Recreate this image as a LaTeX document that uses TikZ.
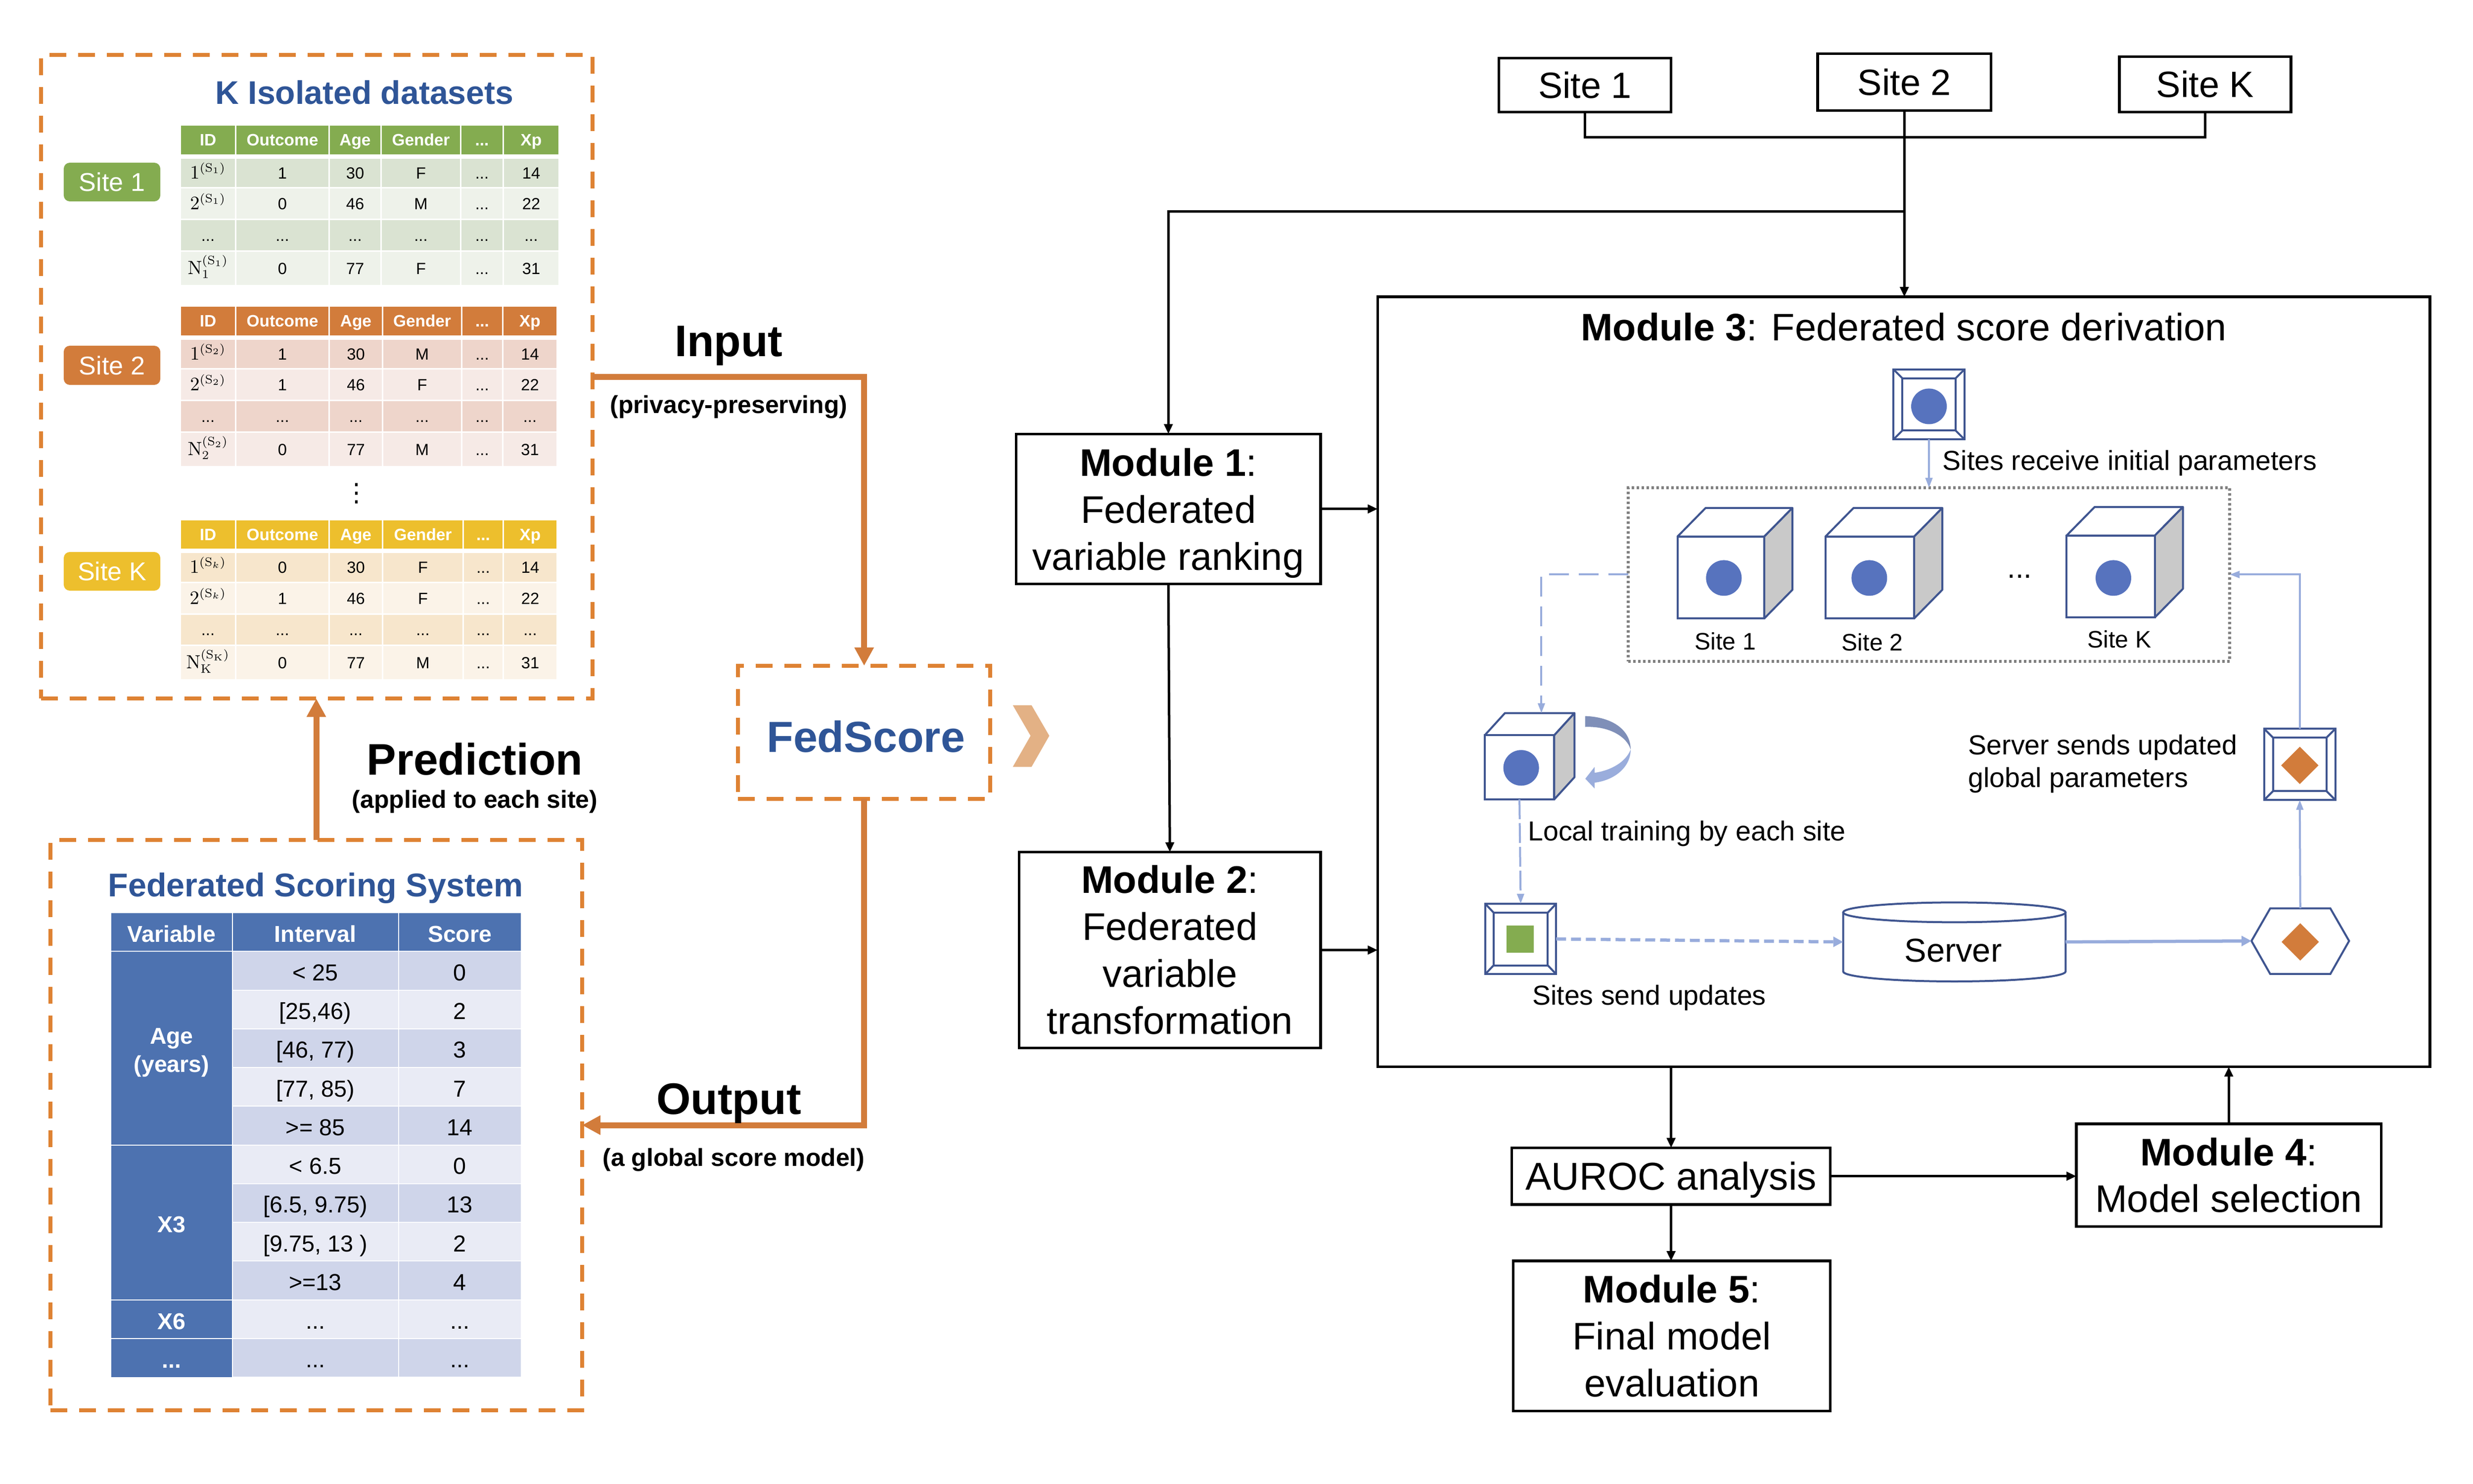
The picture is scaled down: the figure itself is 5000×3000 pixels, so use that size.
\documentclass[tikz,border=0pt]{standalone}
\usepackage[no-math]{fontspec}
\setmainfont{Liberation Sans}
\newfontfamily\djv{DejaVu Sans}
\usetikzlibrary{arrows.meta,shapes.geometric,calc}
\definecolor{titleblue}{HTML}{2F5597}
\definecolor{dashor}{HTML}{DE8233}
\definecolor{solidor}{HTML}{D27C3B}
\definecolor{chev}{HTML}{E3B185}
\definecolor{gA}{HTML}{84AC50}\definecolor{gB}{HTML}{DAE3D2}\definecolor{gC}{HTML}{EEF2EA}
\definecolor{oA}{HTML}{D27C3B}\definecolor{oB}{HTML}{EED5CB}\definecolor{oC}{HTML}{F6EAE6}
\definecolor{yA}{HTML}{EDBF2D}\definecolor{yB}{HTML}{F7E6CC}\definecolor{yC}{HTML}{FBF3E8}
\definecolor{tblue}{HTML}{4D72B0}\definecolor{tdk}{HTML}{CFD5EA}\definecolor{tlt}{HTML}{E9EBF5}
\definecolor{iconc}{HTML}{3F5590}\definecolor{dotblue}{HTML}{5773BE}\definecolor{flow}{HTML}{98ACDC}
\definecolor{sidegray}{HTML}{C9C9C9}\definecolor{dotgray}{HTML}{808080}
\definecolor{curvtop}{HTML}{7F8FB8}\definecolor{curvbot}{HTML}{9AADDC}
\def\dd{...}
\def\ux{0.009966cm}
\newcommand{\fsz}[1]{\fontsize{#1}{#1}\selectfont}
\tikzset{
 boxdash/.style={draw=dashor,line width=.08cm,dash pattern=on .34cm off .24cm,inner sep=0,outer sep=0},
 orline/.style={draw=solidor,line width=.12cm},
 ortip/.style={-{Triangle[length=.37cm,width=.37cm]}},
 lhead/.style={font=\bfseries\fsz{9.5},text=white,text height=6.8pt,text depth=0pt},
 lbody/.style={font=\fsz{9.3},text=black,text height=6.66pt,text depth=0pt},
 badge/.style={rounded corners=.12cm,inner sep=0,text=white,font=\fsz{14.8},text height=10.6pt,text depth=0pt},
 scorecell/.style={draw=white,line width=.02cm,inner sep=0,text height=11.3pt,text depth=0pt,font=\fsz{13.3}},
 blackbox/.style={draw=black,line width=.055cm,inner sep=0,outer sep=0,align=center,font=\fontsize{22.1}{27}\selectfont},
 blk/.style={draw=black,line width=.05cm,-{Triangle[length=.2cm,width=.17cm]}},
 iconline/.style={draw=iconc,line width=.04cm,inner sep=0,outer sep=0},
 flowline/.style={draw=flow,line width=.04cm,-{Triangle[length=.2cm,width=.14cm]}},
 flowdash/.style={flowline,dash pattern=on .4cm off .2cm},
 flowthick/.style={draw=flow,line width=.065cm,-{Triangle[length=.2cm,width=.2cm]}},
 ctext/.style={font=\fsz{15.8},anchor=base west,inner sep=0},
 dotn/.style={circle,fill=dotblue,inner sep=0,minimum size=.72cm},
 dia/.style={diamond,fill=solidor,inner sep=0,minimum width=.76cm,minimum height=.76cm,shape aspect=1},
}
% prefix, y1, y2, fill, style, cells
\newcommand{\lrow}[6]{%
 \foreach \c [count=\i] in {#6} {
  \pgfmathsetmacro\xa{\cols[\i-1]}
  \pgfmathsetmacro\xb{\cols[\i]}
  \node[fill=#4,#5,inner sep=0,minimum width={(\xb-\xa-3)*0.01cm},minimum height={(#3-#2)*0.01cm}] (#1-\i) at ({(\xa+\xb+3)/2},{(#2+#3)/2}) {\c};
 }}
\newcommand{\idc}[1]{{\fsz{10.5}$#1$}}
\newcommand{\bevel}[7]{%
 \node[iconline,fill=white,minimum width={#4*\ux},minimum height={#5*\ux}] (#1) at (#2,#3) {};
 \coordinate (#1-a) at ({#2-#4/2+#6},{#3-#5/2+#7});
 \coordinate (#1-b) at ({#2+#4/2-#6},{#3-#5/2+#7});
 \coordinate (#1-c) at ({#2+#4/2-#6},{#3+#5/2-#7});
 \coordinate (#1-d) at ({#2-#4/2+#6},{#3+#5/2-#7});
 \draw[iconline] (#1-a)--(#1-b)--(#1-c)--(#1-d)--cycle;
 \draw[iconline] (#1.north west)--(#1-a) (#1.north east)--(#1-b) (#1.south east)--(#1-c) (#1.south west)--(#1-d);
}
\newcommand{\cube}[7]{%
 \draw[iconline,fill=white,line join=round] (#2,#3)--({#2+#6},{#3-#7})--({#4+#6},{#3-#7})--(#4,#3)--cycle;
 \draw[iconline,fill=sidegray,line join=round] (#4,#3)--({#4+#6},{#3-#7})--({#4+#6},{#5-#7})--(#4,#5)--cycle;
 \node[iconline,fill=white,minimum width={(#4-#2)*\ux},minimum height={(#5-#3)*\ux}] (#1) at ({(#2+#4)/2},{(#3+#5)/2}) {};
}
\begin{document}
\begin{tikzpicture}[x=0.01cm,y=-0.01cm]
\useasboundingbox (0,0) rectangle (5000,3000);
\fill[white] (0,0) rectangle (5000,3000);

% ---------- dataset container
\node[boxdash,minimum width=11.15cm,minimum height=13.01cm] (box1) at (640.5,761.5) {};
\node[font=\bfseries\fsz{18.8},text=titleblue,anchor=base,inner sep=0] (t1) at (737,211) {K Isolated datasets};

% ---------- badges
\node[badge,fill=gA,minimum width=1.95cm,minimum height=.78cm] (b1) at (226.5,368) {Site 1};
\node[badge,fill=oA,minimum width=1.95cm,minimum height=.79cm] (b2) at (226.5,738.5) {Site 2};
\node[badge,fill=yA,minimum width=1.95cm,minimum height=.78cm] (b3) at (226.5,1155) {Site K};

% ---------- site tables
\def\cols{{363,475,664,769,930,1016,1129}}
\lrow{aH}{254}{312}{gA}{lhead}{ID,Outcome,Age,Gender,\dd,Xp}
\lrow{aA}{321}{378}{gB}{lbody}{\idc{1^{(\mathrm{S}_1)}},1,30,F,\dd,14}
\lrow{aB}{381}{442}{gC}{lbody}{\idc{2^{(\mathrm{S}_1)}},0,46,M,\dd,22}
\lrow{aC}{445}{506}{gB}{lbody}{\dd,\dd,\dd,\dd,\dd,\dd}
\lrow{aD}{509}{576}{gC}{lbody}{\idc{\mathrm{N}_1^{(\mathrm{S}_1)}},0,77,F,\dd,31}
\def\cols{{363,475,664,772,932,1015,1125}}
\lrow{bH}{620}{678}{oA}{lhead}{ID,Outcome,Age,Gender,\dd,Xp}
\lrow{bA}{687}{744}{oB}{lbody}{\idc{1^{(\mathrm{S}_2)}},1,30,M,\dd,14}
\lrow{bB}{747}{808}{oC}{lbody}{\idc{2^{(\mathrm{S}_2)}},1,46,F,\dd,22}
\lrow{bC}{811}{872}{oB}{lbody}{\dd,\dd,\dd,\dd,\dd,\dd}
\lrow{bD}{875}{942}{oC}{lbody}{\idc{\mathrm{N}_2^{(\mathrm{S}_2)}},0,77,M,\dd,31}
\node[font=\djv\fsz{14.5},anchor=center,inner sep=0] (vd) at (721,998) {⋮};
\def\cols{{363,475,664,772,935,1016,1125}}
\lrow{cH}{1052}{1109}{yA}{lhead}{ID,Outcome,Age,Gender,\dd,Xp}
\lrow{cA}{1118}{1176}{yB}{lbody}{\idc{1^{(\mathrm{S}_k)}},0,30,F,\dd,14}
\lrow{cB}{1179}{1240}{yC}{lbody}{\idc{2^{(\mathrm{S}_k)}},1,46,F,\dd,22}
\lrow{cC}{1243}{1303}{yB}{lbody}{\dd,\dd,\dd,\dd,\dd,\dd}
\lrow{cD}{1306}{1373}{yC}{lbody}{\idc{\mathrm{N}_\mathrm{K}^{(\mathrm{S}_\mathrm{K})}},0,77,M,\dd,31}

\begin{scope}[x=\ux,y=-\ux]
\node[boxdash,minimum width={1078*\ux},minimum height={1156*\ux}] (box3) at (641.5,2281.5) {};
\node[boxdash,minimum width={511*\ux},minimum height={270*\ux}] (fed) at (1752.5,1485) {};
\node[font=\bfseries\fsz{18.9},text=titleblue,anchor=base,inner sep=0] (t3) at (640,1818) {Federated Scoring System};
\node[font=\bfseries\fsz{25},text=titleblue,anchor=base,inner sep=0] (tf) at (1756,1525) {FedScore};
\fill[chev] (2054,1430)--(2092,1430)--(2128,1492)--(2092,1555)--(2054,1555)--(2090,1492)--cycle;

% ---------- score table
\tikzset{
 colA/.style={scorecell,minimum width={246*\ux},fill=tblue,text=white,font=\bfseries\fsz{13.2}},
 colB/.style={scorecell,minimum width={337*\ux}},
 colC/.style={scorecell,minimum width={249*\ux}},
}
\foreach \n/\t/\xx/\st in {v/Variable/348/colA,i/Interval/639.5/colB,s/Score/932.5/colC}
 \node[\st,fill=tblue,text=white,font=\bfseries\fsz{13.2},minimum height={78.5*\ux}] (h\n) at (\xx,1890) {\t};
\foreach \r/\tA/\tB/\f in {1/{< 25}/0/tdk,2/{[25,46)}/2/tlt,3/{[46, 77)}/3/tdk,4/{[77, 85)}/7/tlt,5/{>= 85}/14/tdk,
  6/{< 6.5}/0/tlt,7/{[6.5, 9.75)}/13/tdk,8/{[9.75, 13 )}/2/tlt,9/{>=13}/4/tdk,10/\dd/\dd/tlt,11/\dd/\dd/tdk} {
 \pgfmathsetmacro\yy{1890+\r*78.5}
 \node[colB,fill=\f,minimum height={78.5*\ux}] (ri\r) at (639.5,\yy) {\tA};
 \node[colC,fill=\f,minimum height={78.5*\ux}] (rs\r) at (932.5,\yy) {\tB};
}
\node[draw=white,line width=.02cm,inner sep=0,fill=tblue,text=white,font=\bfseries\fontsize{13.2}{16.3}\selectfont,minimum width={246*\ux},minimum height={392.5*\ux},align=center] (vage) at (348,2125.5) {\rule{0pt}{14pt}Age\\(years)};
\node[colA,minimum height={314*\ux}] (vx3) at (348,2479) {X3};
\node[colA,minimum height={78.5*\ux}] (vx6) at (348,2675.5) {X6};
\node[colA,minimum height={78.5*\ux}] (vdd) at (348,2754) {\dd};

% ---------- orange connectors and captions
\draw[orline,ortip] (box1.east) -| (fed.north);
\draw[orline,ortip] (fed.south) |- (box3.east);
\draw[orline,ortip] (box3.north) -- (box3.north |- box1.south);
\node[font=\bfseries\fsz{25.4},anchor=base,inner sep=0] (lin) at (1478,723) {Input};
\node[font=\bfseries\fsz{14.2},anchor=base,inner sep=0] (lin2) at (1478,838) {(privacy-preserving)};
\node[font=\bfseries\fsz{25.4},anchor=base,inner sep=0] (lpr) at (963,1571) {Prediction};
\node[font=\bfseries\fsz{14.2},anchor=base,inner sep=0] (lpr2) at (963,1638) {(applied to each site)};
\node[font=\bfseries\fsz{25.4},anchor=base,inner sep=0] (lou) at (1478,2259) {Output};
\node[font=\bfseries\fsz{14.2},anchor=base,inner sep=0] (lou2) at (1488,2365) {(a global score model)};

% ---------- right column boxes
\node[blackbox,font=\fsz{21},minimum width={349*\ux},minimum height={109*\ux}] (s1) at (3214.5,172.5) {Site 1};
\node[blackbox,font=\fsz{21},minimum width={352*\ux},minimum height={115*\ux}] (s2) at (3862,166.5) {Site 2};
\node[blackbox,font=\fsz{21},minimum width={348*\ux},minimum height={112*\ux}] (sK) at (4472,171) {Site K};
\node[blackbox,minimum width={617*\ux},minimum height={304*\ux}] (m1) at (2369.5,1032) {\rule{0pt}{21pt}\textbf{Module 1}:\\Federated\\variable ranking};
\node[blackbox,minimum width={611*\ux},minimum height={397*\ux}] (m2) at (2372.5,1926.5) {\textbf{Module 2}:\\Federated\\variable\\transformation};
\node[blackbox,minimum width={2134*\ux},minimum height={1561*\ux}] (m3) at (3861,1382.5) {};
\node[font=\fsz{22},anchor=base,inner sep=0] (m3t) at (3861,691) {\textbf{Module 3}: Federated score derivation};
\node[blackbox,font=\fsz{22.3},text height=16pt,text depth=0pt,minimum width={646*\ux},minimum height={115*\ux}] (aur) at (3389,2385) {AUROC analysis};
\node[blackbox,minimum width={618*\ux},minimum height={208*\ux}] (m4) at (4520,2383) {\textbf{Module 4}:\\Model selection};
\node[blackbox,minimum width={643*\ux},minimum height={304*\ux}] (m5) at (3390.5,2709) {\textbf{Module 5}:\\Final model\\evaluation};

\coordinate (bus) at (3862,278);
\coordinate (junc) at (3862,429);
\draw[draw=black,line width=.05cm] (s1.south) |- (bus) -| (sK.south);
\draw[blk] (s2.south) -- (m3.north -| s2.south);
\draw[blk] (junc) -| (m1.north);
\draw[blk] (m1.south) -- (m2.north);
\draw[blk] (m1.east) -- (m1.east -| m3.west);
\draw[blk] (m2.east) -- (m2.east -| m3.west);
\draw[blk] (m3.south -| aur.north) -- (aur.north);
\draw[blk] (aur.east) -- (aur.east -| m4.west);
\draw[blk] (m4.north) -- (m4.north |- m3.south);
\draw[blk] (aur.south) -- (aur.south |- m5.north);

% ---------- Module 3 internals
\node[draw=dotgray,line width=.06cm,dash pattern=on .05cm off .05cm,inner sep=0,outer sep=0,minimum width={1220*\ux},minimum height={352*\ux}] (dots) at (3912,1165) {};
\bevel{topic}{3912}{820}{144}{142}{18}{18}
\node[dotn] (c0) at (3912,824) {};
\node[ctext] (lab1) at (3939,953) {Sites receive initial parameters};

\cube{cA}{3402}{1088}{3578}{1254}{57}{58}
\node[dotn] (cAd) at (3496,1172) {};
\cube{cB}{3702}{1088}{3882}{1254}{57}{58}
\node[dotn] (cBd) at (3791,1172) {};
\cube{cK}{4191}{1086}{4370}{1252}{57}{58}
\node[dotn] (cKd) at (4286,1172) {};
\node[font=\fsz{13.7},anchor=base,inner sep=0] (ca) at (3499,1318) {Site 1};
\node[font=\fsz{13.7},anchor=base,inner sep=0] (cb) at (3797,1320) {Site 2};
\node[font=\fsz{13.7},anchor=base,inner sep=0] (ck) at (4298,1314) {Site K};
\node[font=\fsz{17},anchor=base,inner sep=0] (cdots) at (4096,1172) {\dd};

\cube{lc}{3011}{1491}{3152}{1621}{41}{45}
\node[dotn] (lcd) at (3085,1557) {};
\coordinate (lctop) at (3126,1446);
% curved arrow
\fill[curvtop] (3215,1452) .. controls (3270,1454) and (3307,1480) .. (3307,1520) .. controls (3300,1495) and (3265,1472) .. (3215,1474) -- cycle;
\fill[curvbot] (3307,1520) .. controls (3307,1555) and (3275,1582) .. (3234,1587) -- (3234,1599) -- (3215,1579) -- (3234,1555) -- (3234,1567) .. controls (3268,1562) and (3297,1545) .. (3307,1520) -- cycle;
\node[ctext] (lab2) at (3098,1705) {Local training by each site};

\bevel{gic}{3084}{1904}{144}{143}{17}{18}
\fill[gA] (3055,1877) rectangle (3110,1932);
\node[ctext] (lab3) at (3107,2038) {Sites send updates};

% server
\node[inner sep=0,outer sep=0,minimum width={451*\ux},minimum height={160*\ux}] (srv) at (3963.5,1910) {};
\draw[iconline,fill=white] (3738,1850) -- (3738,1970) arc[start angle=180,end angle=360,x radius=2.247cm,y radius=.2cm] -- (4189,1850);
\draw[iconline,fill=white] (3738,1850) arc[start angle=180,end angle=540,x radius=2.247cm,y radius=.2cm] -- cycle;
\node[font=\fsz{19},anchor=base,inner sep=0] (srvt) at (3961,1950) {Server};

% hexagon
\node[inner sep=0,outer sep=0,minimum width={198*\ux},minimum height={133*\ux}] (hex) at (4665,1908) {};
\draw[iconline] (4566,1908)--(4604,1842)--(4726,1842)--(4764,1908)--(4726,1975)--(4604,1975)--cycle;
\node[dia] (hd) at (4665,1910) {};

\bevel{upic}{4664}{1550}{144}{144}{18}{18}
\node[dia] (ud) at (4664,1552) {};
\node[ctext] (lab4) at (3991,1530) {Server sends updated};
\node[ctext] (lab5) at (3991,1596) {global parameters};

% flows
\draw[flowline] (topic.south) -- (dots.north);
\draw[flowdash] (dots.west) -| (lctop);
\draw[flowline] (upic.north) |- (dots.east);
\draw[flowline,dash pattern=on .4cm off .08cm] (lc.south) -- (gic.north);
\draw[flowthick,dash pattern=on .2cm off .1cm] (gic.east) -- (srv.west);
\draw[flowthick] (srv.east) -- (hex.west);
\draw[flowline] (hex.north) -- (upic.south);
\end{scope}
\end{tikzpicture}
\end{document}
